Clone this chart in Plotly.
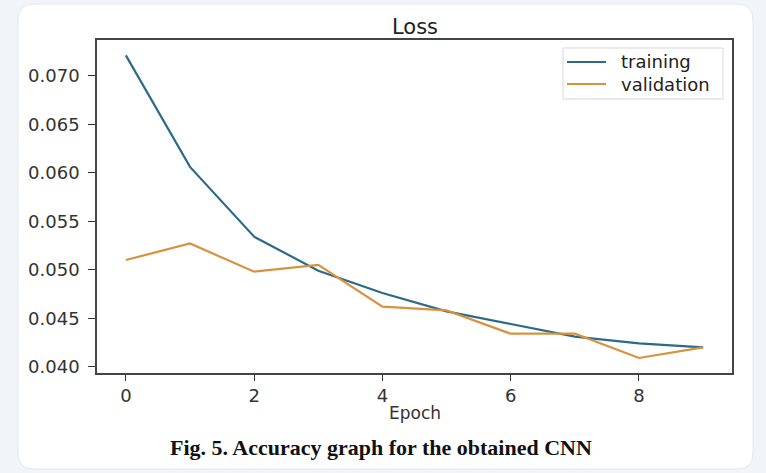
import plotly.graph_objects as go

epochs = [0, 1, 2, 3, 4, 5, 6, 7, 8, 9]
training = [0.0721, 0.0606, 0.0534, 0.0499, 0.0476, 0.0457, 0.0444, 0.0431, 0.0424, 0.0420]
validation = [0.0510, 0.0527, 0.0498, 0.0505, 0.0462, 0.0458, 0.0434, 0.0434, 0.0409, 0.0420]
y_ticks = [0.040, 0.045, 0.050, 0.055, 0.060, 0.065, 0.070]
x_ticks = [0, 2, 4, 6, 8]
series_names = ["training", "validation"]
series_colors = ["#2c6a8a", "#d8923e"]

W, H = 766, 473
L, R, T, B = 97, 732, 40, 373


def px(xp):
    return (xp - L) / (R - L)


def py(yp):
    return (B - yp) / (B - T)


fig = go.Figure()
for name, vals, col in zip(series_names, [training, validation], series_colors):
    fig.add_trace(go.Scatter(x=epochs, y=vals, mode="lines", name=name,
                             line=dict(color=col, width=2.2), showlegend=False))

# rounded card
x0, x1, y0, y1, r = 18, 753, 4, 469, 16
path = (
    f"M {px(x0 + r)} {py(y0)} L {px(x1 - r)} {py(y0)} "
    f"Q {px(x1)} {py(y0)} {px(x1)} {py(y0 + r)} "
    f"L {px(x1)} {py(y1 - r)} Q {px(x1)} {py(y1)} {px(x1 - r)} {py(y1)} "
    f"L {px(x0 + r)} {py(y1)} Q {px(x0)} {py(y1)} {px(x0)} {py(y1 - r)} "
    f"L {px(x0)} {py(y0 + r)} Q {px(x0)} {py(y0)} {px(x0 + r)} {py(y0)} Z"
)
fig.add_shape(type="path", path=path, xref="paper", yref="paper",
              fillcolor="white", line=dict(color="#e3e8ef", width=1), layer="below")

# legend box (matplotlib style)
fig.add_shape(type="rect", xref="paper", yref="paper",
              x0=px(563), x1=px(723), y0=py(99), y1=py(48),
              fillcolor="rgba(255,255,255,0.9)", line=dict(color="#d8d8d8", width=1))
for i, (name, col) in enumerate(zip(series_names, series_colors)):
    yc = 62 + 22 * i
    fig.add_shape(type="line", xref="paper", yref="paper",
                  x0=px(567), x1=px(606), y0=py(yc), y1=py(yc),
                  line=dict(color=col, width=2.2))
    fig.add_annotation(text=name, x=px(619), y=py(yc), xref="paper", yref="paper",
                       showarrow=False, xanchor="left", yanchor="middle",
                       font=dict(family="DejaVu Sans", size=18, color="#222"))

fig.add_annotation(text="Loss", x=0.5, y=py(27), xref="paper", yref="paper",
                   showarrow=False, yanchor="middle",
                   font=dict(family="DejaVu Sans", size=21, color="#222"))
fig.add_annotation(text="Epoch", x=0.5, y=py(413), xref="paper", yref="paper",
                   showarrow=False, yanchor="middle",
                   font=dict(family="DejaVu Sans", size=17, color="#333"))
fig.add_annotation(text="<b>Fig. 5. Accuracy graph for the obtained CNN</b>",
                   x=px(381), y=py(447), xref="paper", yref="paper",
                   showarrow=False, yanchor="middle", xanchor="center",
                   font=dict(family="Liberation Serif", size=22, color="#111"))

fig.update_layout(
    width=W, height=H,
    margin=dict(l=L, r=W - R, t=T, b=H - B),
    paper_bgcolor="#f1f4f8",
    plot_bgcolor="white",
    showlegend=False,
    xaxis=dict(range=[-0.45, 9.45], tickvals=x_ticks, ticks="outside", ticklen=6,
               tickcolor="#333", showgrid=False, zeroline=False, showline=True,
               linecolor="#444", linewidth=1.5, mirror=True,
               tickfont=dict(family="DejaVu Sans", size=18, color="#333")),
    yaxis=dict(range=[0.03935, 0.07368], tickvals=y_ticks, tickformat=".3f",
               ticks="outside", ticklen=7, tickcolor="#333", showgrid=False,
               zeroline=False, showline=True, linecolor="#444", linewidth=1.5,
               mirror=True, ticklabelstandoff=5,
               tickfont=dict(family="DejaVu Sans", size=18, color="#333")),
)

fig.write_html("out.html", post_script="document.body.style.margin='0px';",
               config={"displayModeBar": False})
